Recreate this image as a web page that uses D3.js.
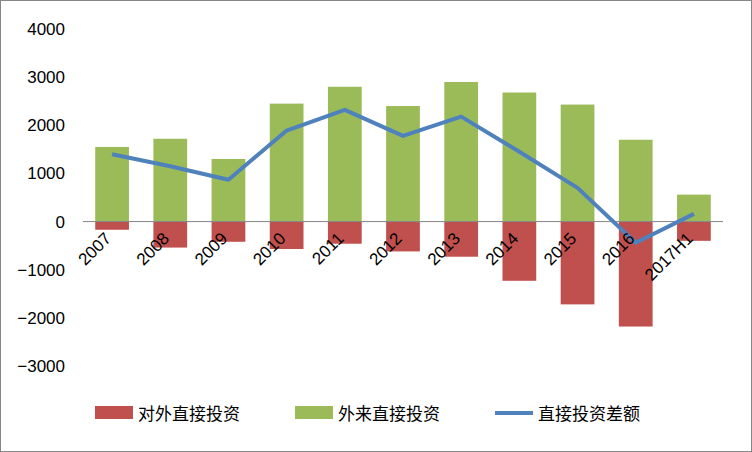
<!DOCTYPE html><html><head><meta charset="utf-8"><script src="https://cdn.jsdelivr.net/npm/d3@7"></script>
<style>body{margin:0;background:#fff}text{font-family:"Liberation Sans","Noto Sans CJK SC",sans-serif}</style></head><body>
<svg id="c" width="752" height="452"></svg>
<script>
const categories=["2007","2008","2009","2010","2011","2012","2013","2014","2015","2016","2017H1"];
const outward=[-170,-540,-420,-570,-460,-620,-730,-1230,-1720,-2180,-400];
const inward=[1550,1720,1300,2450,2800,2400,2900,2680,2430,1700,560];
const net=[1400,1150,870,1890,2320,1780,2180,1450,700,-440,160];
const yTicks=[-3000,-2000,-1000,0,1000,2000,3000,4000];
const names=["对外直接投资","外来直接投资","直接投资差额"];
const colors=["#C0504D","#9BBB59","#4F81BD"];
const svg=d3.select("#c");
svg.append("rect").attr("x",0.5).attr("y",0.5).attr("width",751).attr("height",451).attr("fill","#fff").attr("stroke","#868686");
const x=d3.scaleBand().domain(categories).range([83,723]).paddingInner(0.42).paddingOuter(0.21);
const y=d3.scaleLinear().domain([-3000,4000]).range([366,29]);
const ya=svg.append("g").attr("transform","translate(83,0)").call(d3.axisLeft(y).tickValues(yTicks).tickFormat(d3.format("d")).tickSize(0).tickPadding(18));
ya.select(".domain").remove();
ya.selectAll("text").attr("font-size",17).attr("fill","#000");
svg.selectAll(".r").data(outward).enter().append("rect").attr("x",(d,i)=>x(categories[i])).attr("width",x.bandwidth()).attr("y",y(0)).attr("height",d=>y(d)-y(0)).attr("fill",colors[0]);
svg.selectAll(".g").data(inward).enter().append("rect").attr("x",(d,i)=>x(categories[i])).attr("width",x.bandwidth()).attr("y",d=>y(d)).attr("height",d=>y(0)-y(d)).attr("fill",colors[1]);
svg.append("line").attr("x1",83).attr("x2",723).attr("y1",y(0)).attr("y2",y(0)).attr("stroke","#868686");
const line=d3.line().x((d,i)=>x(categories[i])+x.bandwidth()/2).y(d=>y(d));
svg.append("path").datum(net).attr("d",line).attr("fill","none").attr("stroke",colors[2]).attr("stroke-width",4).attr("stroke-linejoin","round");
svg.selectAll(".xl").data(categories).enter().append("text").attr("font-size",17)
 .attr("text-anchor","end").attr("transform",d=>`translate(${x(d)+x.bandwidth()/2},${y(0)+18}) rotate(-45)`).text(d=>d);
const lg=[[95,"rect"],[295,"rect"],[495,"line"]];
lg.forEach(([lx,t],i)=>{
 if(t==="rect")svg.append("rect").attr("x",lx).attr("y",406).attr("width",38).attr("height",13).attr("fill",colors[i]);
 else svg.append("line").attr("x1",lx).attr("x2",lx+38).attr("y1",413).attr("y2",413).attr("stroke",colors[i]).attr("stroke-width",4);
 svg.append("text").attr("x",lx+43).attr("y",420).attr("font-size",17).text(names[i]);
});
</script></body></html>
